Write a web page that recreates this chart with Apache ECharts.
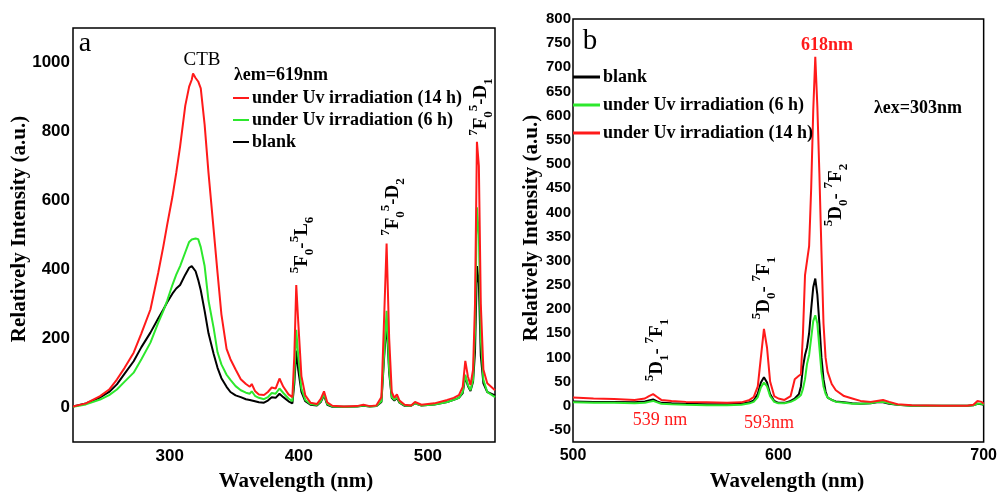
<!DOCTYPE html>
<html>
<head>
	<meta charset="utf-8">
	<title>spectra</title>
	<script src="https://cdn.jsdelivr.net/npm/echarts@6/dist/echarts.min.js"></script>
	<style>
		html, body { margin: 0; padding: 0; background: #fff; }
	</style>
</head>
<body>
	<div id="container" style="width: 1000px;height:496px;"></div>
	<script type="text/javascript">
		// (a) excitation, lambda em = 619 nm
		var aWave = [225, 235, 246, 253, 259, 265, 272, 278, 285, 291, 295, 298, 302, 305, 308, 312, 315, 317, 318, 320, 322, 324, 327, 330, 334, 337, 340, 344, 347, 351, 355, 359, 362, 363.5, 366, 369, 373, 376, 379, 382, 385, 388, 392, 395, 396.5, 398, 399.5, 402, 405, 409, 414, 417, 419.5, 422, 426, 435, 445, 450, 455, 460, 464, 466, 468, 470, 472, 474, 476, 478, 482, 487, 490, 495, 505, 515, 520, 524, 527, 529, 531, 533, 535, 536.5, 538, 539.5, 541, 543, 546, 552];
		var aRed = [3, 12, 33, 52, 81, 115, 159, 215, 284, 390, 467, 530, 610, 680, 757, 875, 930, 950, 968, 955, 945, 925, 820, 680, 515, 390, 270, 170, 140, 110, 82, 68, 60, 68, 48, 38, 36, 45, 58, 55, 84, 60, 38, 30, 150, 355, 250, 91, 35, 14, 10, 25, 47, 15, 5, 3, 4, 8, 4, 6, 30, 250, 475, 200, 45, 28, 38, 20, 8, 6, 16, 8, 12, 22, 28, 36, 60, 135, 90, 65, 110, 300, 770, 700, 300, 110, 70, 50];
		var aGreen = [2, 9, 23, 36, 52, 75, 101, 140, 188, 245, 280, 310, 355, 385, 410, 450, 480, 487, 490, 490, 488, 465, 410, 310, 230, 160, 125, 95, 80, 62, 50, 43, 40, 47, 34, 28, 24, 30, 42, 40, 55, 42, 26, 18, 90, 225, 150, 55, 22, 10, 7, 18, 38, 10, 3, 2, 3, 6, 3, 4, 18, 150, 280, 110, 30, 22, 30, 15, 6, 5, 12, 6, 9, 16, 22, 28, 45, 95, 65, 50, 80, 220, 580, 500, 200, 80, 45, 30];
		var aBlank = [3, 12, 29, 45, 67, 98, 134, 175, 217, 258, 284, 305, 330, 345, 355, 385, 405, 410, 408, 395, 370, 340, 280, 215, 155, 115, 85, 60, 45, 35, 30, 24, 22, 25, 18, 15, 14, 20, 30, 28, 40, 30, 18, 12, 70, 165, 110, 45, 18, 8, 6, 16, 35, 8, 2, 2, 3, 5, 3, 4, 16, 140, 250, 100, 28, 20, 28, 14, 5, 5, 12, 6, 9, 16, 22, 28, 42, 90, 62, 48, 75, 160, 410, 360, 150, 70, 45, 35];

		// (b) emission, lambda ex = 303 nm
		var bWave = [500, 510, 520, 530, 535, 537, 539, 541, 543, 548, 555, 565, 575, 582, 586, 588, 590, 591.5, 593, 594.5, 596, 598, 600, 603, 606, 608, 610, 611, 612, 613, 614, 615, 616, 617, 618, 619, 620, 621, 622, 623, 624, 626, 628, 632, 636, 640, 645, 648, 651, 654, 658, 665, 680, 692, 695, 697, 699, 700];
		var bRed = [17, 15, 14, 12, 15, 20, 24, 18, 12, 10, 8, 7, 6, 7, 12, 18, 40, 100, 159, 120, 50, 20, 15, 12, 20, 55, 62, 65, 150, 270, 300, 330, 450, 610, 722, 620, 480, 320, 170, 100, 70, 45, 32, 20, 15, 10, 8, 10, 12, 8, 3, 1, 0, 0, 2, 10, 8, 4];
		var bGreen = [7, 6, 6, 5, 6, 8, 10, 7, 4, 3, 2, 1, 1, 2, 5, 8, 18, 38, 48, 40, 20, 8, 5, 5, 8, 12, 18, 22, 35, 55, 87, 105, 140, 175, 187, 170, 120, 70, 40, 25, 17, 12, 8, 6, 4, 4, 5, 8, 8, 5, 2, 0, 0, 0, 1, 4, 4, 2];
		var bBlank = [9, 8, 8, 7, 9, 11, 13, 9, 6, 5, 4, 3, 3, 4, 7, 11, 25, 48, 59, 48, 24, 10, 6, 6, 10, 15, 24, 40, 80, 105, 121, 150, 200, 245, 263, 230, 170, 100, 55, 30, 17, 12, 9, 7, 5, 4, 5, 7, 7, 4, 2, 0, 0, 0, 1, 4, 3, 2];

		var names = ['under Uv irradiation (14 h)', 'under Uv irradiation (6 h)', 'blank'];
		var colRed = '#ff1a1a', colGreen = '#2de82d', colBlack = '#000000';

		var serif = '"Liberation Serif", "Times New Roman", serif';
		var sans = '"Liberation Sans", Arial, sans-serif';

		function zip(xs, ys) {
			var out = [];
			for (var i = 0; i < xs.length; i++) out.push([xs[i], ys[i]]);
			return out;
		}
		function line(name, color, xs, ys, idx) {
			return {
				name: name, type: 'line', xAxisIndex: idx, yAxisIndex: idx,
				data: zip(xs, ys), showSymbol: false, symbol: 'none',
				lineStyle: { color: color, width: 2 }, itemStyle: { color: color }
			};
		}
		// rotated term-symbol label, reads bottom to top
		var rich = {
			u: { fontSize: 13, fontWeight: 'bold', fontFamily: serif, verticalAlign: 'top', lineHeight: 28 },
			d: { fontSize: 13, fontWeight: 'bold', fontFamily: serif, verticalAlign: 'bottom', lineHeight: 28 },
			m: { fontSize: 19, fontWeight: 'bold', fontFamily: serif, lineHeight: 28 }
		};
		function term(x, y, txt) {
			return {
				type: 'text', x: x, y: y, rotation: Math.PI / 2,
				style: { text: txt, rich: rich, fill: '#000', align: 'center', verticalAlign: 'middle' }
			};
		}
		function label(x, y, txt, size, weight, color, rot) {
			return {
				type: 'text', x: x, y: y, rotation: rot || 0,
				style: { text: txt, fontSize: size, fontWeight: weight, fontFamily: serif, fill: color, align: 'center', verticalAlign: 'middle' }
			};
		}

		var myChart = echarts.init(document.getElementById('container'));
		myChart.setOption({
			animation: false,
			grid: [
				{ left: 73, top: 28, width: 422, height: 414, show: true, borderColor: '#000', borderWidth: 1.5, backgroundColor: 'transparent' },
				{ left: 573, top: 19, width: 413, height: 423, show: true, borderColor: '#000', borderWidth: 1.5, backgroundColor: 'transparent' }
			],
			xAxis: [
				{
					type: 'value', gridIndex: 0, min: 225, max: 552, interval: 25,
					axisLine: { show: false }, axisTick: { show: false }, splitLine: { show: false },
					axisLabel: { margin: 6, color: '#000', fontSize: 17, fontWeight: 'bold', fontFamily: sans,
						showMinLabel: false, showMaxLabel: false,
						formatter: function (v) { return v % 100 === 0 ? v : ''; } }
				},
				{
					type: 'value', gridIndex: 1, min: 500, max: 700, interval: 100,
					axisLine: { show: false }, axisTick: { show: false }, splitLine: { show: false },
					axisLabel: { margin: 6, color: '#000', fontSize: 16, fontWeight: 'bold', fontFamily: sans }
				}
			],
			yAxis: [
				{
					type: 'value', gridIndex: 0, min: -100, max: 1100, interval: 100,
					axisLine: { show: false }, axisTick: { show: false }, splitLine: { show: false },
					axisLabel: { margin: 3, color: '#000', fontSize: 17, fontWeight: 'bold', fontFamily: sans,
						formatter: function (v) { return (v % 200 === 0 && v >= 0 && v <= 1000) ? v : ''; } }
				},
				{
					type: 'value', gridIndex: 1, min: -75, max: 800, interval: 25,
					axisLine: { show: false }, axisTick: { show: false }, splitLine: { show: false },
					axisLabel: { margin: 2, color: '#000', fontSize: 15, fontWeight: 'bold', fontFamily: sans,
						formatter: function (v) { return v % 50 === 0 ? v : ''; } }
				}
			],
			legend: [
				{
					data: [names[0], names[1], names[2]], orient: 'vertical', left: 233, top: 89,
					padding: 0, itemGap: 4, itemWidth: 16, itemHeight: 2, icon: 'rect',
					textStyle: { fontSize: 18, fontWeight: 'bold', fontFamily: serif, color: '#000', padding: [0, 0, 0, -2] }
				},
				{
					data: [names[2], names[1], names[0]], orient: 'vertical', left: 573, top: 68,
					padding: 0, itemGap: 10, itemWidth: 27, itemHeight: 3, icon: 'rect',
					textStyle: { fontSize: 18, fontWeight: 'bold', fontFamily: serif, color: '#000', padding: [0, 0, 0, -2] }
				}
			],
			series: [
				line(names[2], colBlack, aWave, aBlank, 0),
				line(names[1], colGreen, aWave, aGreen, 0),
				line(names[0], colRed, aWave, aRed, 0),
				line(names[2], colBlack, bWave, bBlank, 1),
				line(names[1], colGreen, bWave, bGreen, 1),
				line(names[0], colRed, bWave, bRed, 1)
			],
			graphic: [
				label(296, 482, 'Wavelength (nm)', 21, 'bold', '#000'),
				label(787, 482, 'Wavelength (nm)', 21, 'bold', '#000'),
				label(20, 229, 'Relatively Intensity (a.u.)', 21, 'bold', '#000', Math.PI / 2),
				label(532, 228, 'Relatively Intensity (a.u.)', 21, 'bold', '#000', Math.PI / 2),
				label(85, 44, 'a', 28, 'normal', '#000'),
				label(590, 41, 'b', 29, 'normal', '#000'),
				label(202, 60, 'CTB', 19, 'normal', '#000'),
				label(281, 75, 'λem=619nm', 18, 'bold', '#000'),
				label(918, 108, 'λex=303nm', 18, 'bold', '#000'),
				label(827, 45, '618nm', 18, 'bold', colRed),
				label(660, 420, '539 nm', 18, 'normal', colRed),
				label(769, 423, '593nm', 18, 'normal', colRed),
				term(302, 245, '{u|5}{m|F}{d|0}{m|-}{u|5}{m|L}{d|6}'),
				term(393, 207, '{u|7}{m|F}{d|0}{u|5}{m|-D}{d|2}'),
				term(481, 107, '{u|7}{m|F}{d|0}{u|5}{m|-D}{d|1}'),
				term(657, 350, '{u|5}{m|D}{d|1}{m|- }{u|7}{m|F}{d|1}'),
				term(764, 288, '{u|5}{m|D}{d|0}{m|- }{u|7}{m|F}{d|1}'),
				term(836, 195, '{u|5}{m|D}{d|0}{m|- }{u|7}{m|F}{d|2}')
			]
		});
	</script>
</body>
</html>
